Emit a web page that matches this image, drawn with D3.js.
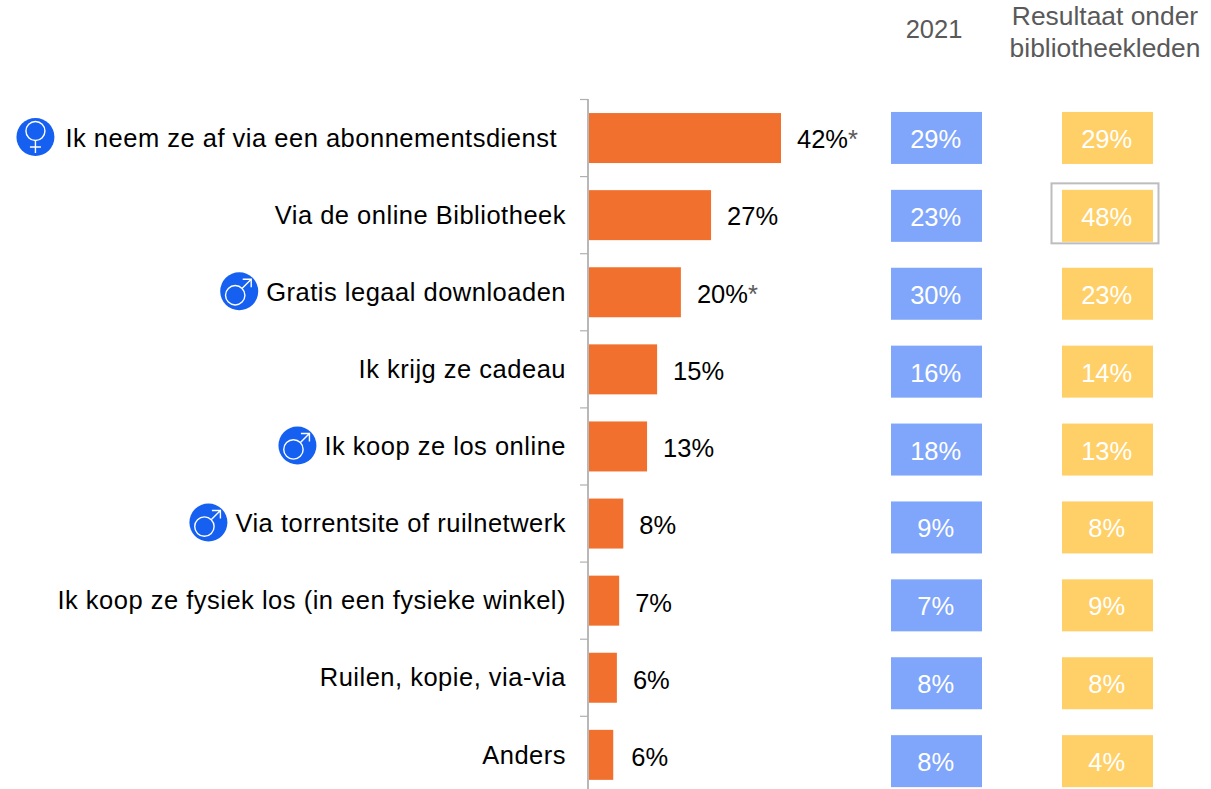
<!DOCTYPE html>
<html><head><meta charset="utf-8">
<script src="https://cdnjs.cloudflare.com/ajax/libs/d3/7.8.5/d3.min.js"></script>
<style>html,body{margin:0;background:#fff}svg{display:block}text{font-family:"Liberation Sans",Arial,sans-serif}</style>
</head><body><svg id="c" width="1211" height="789"></svg>
<script>
const categories=["Ik neem ze af via een abonnementsdienst","Via de online Bibliotheek","Gratis legaal downloaden","Ik krijg ze cadeau","Ik koop ze los online","Via torrentsite of ruilnetwerk","Ik koop ze fysiek los (in een fysieke winkel)","Ruilen, kopie, via-via","Anders"];
const values=[42,26.7,20.1,14.9,12.7,7.5,6.6,6.1,5.3];
const valueLabels=["42%","27%","20%","15%","13%","8%","7%","6%","6%"];
const significant=[true,false,true,false,false,false,false,false,false];
const gender=["f",null,"m",null,"m","m",null,null,null];
const values2021=[29,23,30,16,18,9,7,8,8];
const valuesMembers=[29,48,23,14,13,8,9,8,4];
const highlighted=[false,true,false,false,false,false,false,false,false];
const columnTitles=[["2021"],["Resultaat onder","bibliotheekleden"]];

const svg=d3.select("#c");
const x=d3.scaleLinear().domain([0,42]).range([589,781]);
const y=d3.scaleBand().domain(categories).range([99.5,793.4]).padding(0);
const yTile=d3.scaleBand().domain(categories).range([99,800.1]).padding(0);
const barH=50,tileH=52,fs=25.5;
const cy=d=>y(d)+y.bandwidth()/2;
const ct=d=>yTile(d)+yTile.bandwidth()/2;

// axis
svg.append("line").attr("x1",588).attr("x2",588).attr("y1",99).attr("y2",789).attr("stroke","#b8b8b8").attr("stroke-width",2);
svg.selectAll(".tk").data(categories).join("line").attr("x1",580).attr("x2",588)
 .attr("y1",d=>y(d)).attr("y2",d=>y(d)).attr("stroke","#b0b0b0").attr("stroke-width",1.2);

// bars
svg.selectAll(".bar").data(categories).join("rect").attr("x",x(0))
 .attr("y",d=>cy(d)-barH/2).attr("width",(d,i)=>x(values[i])-x(0)).attr("height",barH).attr("fill","#f2702e");

// value labels
const vl=svg.selectAll(".vl").data(categories).join("text").attr("x",(d,i)=>x(values[i])+(i==8?18:16))
 .attr("y",(d,i)=>cy(d)+10+i*0.15).attr("font-size",fs).attr("fill","#000");
vl.append("tspan").text((d,i)=>valueLabels[i]);
vl.append("tspan").attr("fill","#595959").text((d,i)=>significant[i]?"*":"");

// category labels
const cat=svg.selectAll(".cat").data(categories).join("text").attr("text-anchor","end")
 .attr("x",(d,i)=>i==0?557:566).attr("y",d=>cy(d)+8.7).attr("font-size",fs).attr("letter-spacing",0.5).attr("fill","#000").text(d=>d);

// gender icons
cat.each(function(d,i){
 if(!gender[i])return;
 const left=this.getBBox().x, r=19, g=svg.append("g").attr("transform",`translate(${left-(gender[i]=="f"?30:27)},${cy(d)-1})`);
 g.append("circle").attr("r",r).attr("fill","#1560f0");
 if(gender[i]=="f"){
  g.append("circle").attr("cy",-6).attr("r",9.5).attr("fill","none").attr("stroke","#fff").attr("stroke-width",1.4);
  g.append("path").attr("d","M0,3.5V16M-5.5,10H5.5").attr("fill","none").attr("stroke","#fff").attr("stroke-width",1.4);
 }else{
  g.append("circle").attr("cx",-4).attr("cy",4).attr("r",9.7).attr("fill","none").attr("stroke","#fff").attr("stroke-width",1.4);
  g.append("path").attr("d","M3,-3L12,-12M3.5,-12H12V-4").attr("fill","none").attr("stroke","#fff").attr("stroke-width",1.4);
 }
});

// tiles
function tiles(vals,x0,color){
 svg.selectAll(null).data(categories).join("rect").attr("x",x0).attr("width",91)
  .attr("y",d=>ct(d)-tileH/2).attr("height",tileH).attr("fill",color);
 svg.selectAll(null).data(categories).join("text").attr("x",x0+44.7).attr("text-anchor","middle")
  .attr("y",d=>ct(d)+10).attr("font-size",fs).attr("fill","#fff").text((d,i)=>vals[i]+"%");
}
tiles(values2021,891,"#7fa6fb");
tiles(valuesMembers,1062,"#ffd067");

// highlight
svg.selectAll(null).data(categories.filter((d,i)=>highlighted[i])).join("rect")
 .attr("x",1051.5).attr("width",107).attr("y",d=>ct(d)-32.5).attr("height",60)
 .attr("fill","none").attr("stroke","#bdbdbd").attr("stroke-width",2);

// column titles
svg.append("text").attr("x",934).attr("y",38).attr("text-anchor","middle").attr("font-size",fs).attr("fill","#595959").text(columnTitles[0][0]);
svg.selectAll(".ct").data(columnTitles[1]).join("text").attr("x",1105).attr("y",(d,i)=>25+i*32).attr("text-anchor","middle")
 .attr("font-size",26.4).attr("fill","#595959").text(d=>d);
</script></body></html>
